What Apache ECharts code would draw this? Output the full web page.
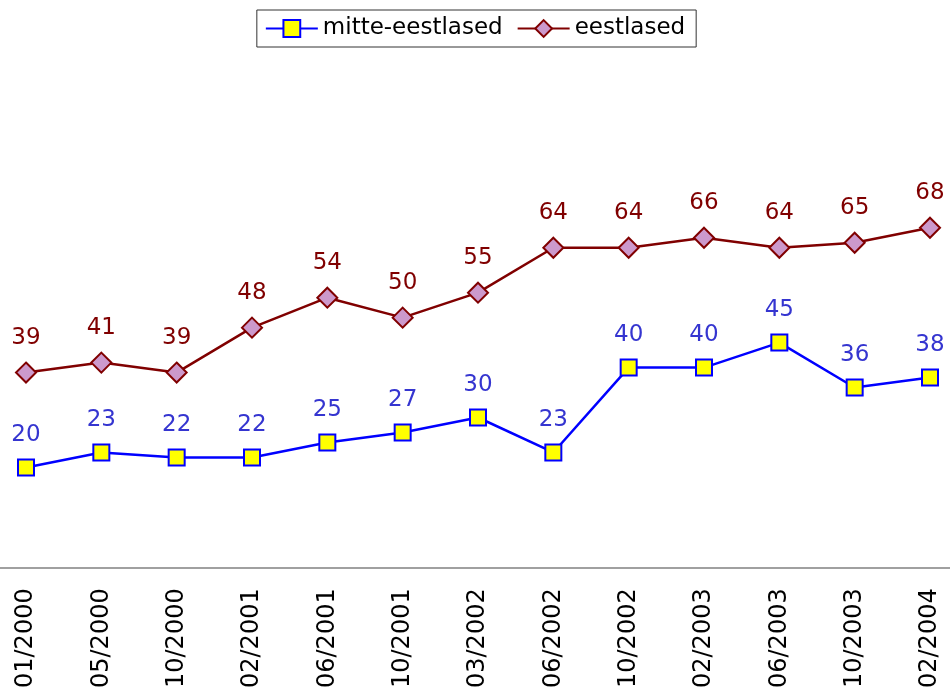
<!DOCTYPE html>
<html><head><meta charset="utf-8">
<script src="https://cdn.jsdelivr.net/npm/echarts@6/dist/echarts.min.js"></script>
<style>html,body{margin:0;padding:0;background:#fff}#c{width:950px;height:691px}</style>
</head><body><div id="c"></div>
<script>
const categories = ['01/2000','05/2000','10/2000','02/2001','06/2001','10/2001','03/2002','06/2002','10/2002','02/2003','06/2003','10/2003','02/2004'];
const mitteEestlased = [20,23,22,22,25,27,30,23,40,40,45,36,38];
const eestlased = [39,41,39,48,54,50,55,64,64,66,64,65,68];
const seriesNames = ['mitte-eestlased','eestlased'];

const FONT = 'DejaVu Sans';
const chart = echarts.init(document.getElementById('c'));
chart.setOption({
  animation: false,
  textStyle: {fontFamily: FONT},
  legend: {
    top: 10, left: 'center',
    data: seriesNames,
    itemWidth: 52, itemHeight: 21, itemGap: 14,
    padding: [7, 11, 7, 8],
    borderColor: '#333', borderWidth: 1,
    textStyle: {fontFamily: FONT, fontSize: 23, color: '#000'}
  },
  grid: [
    {left: 26, right: 20, top: 68, bottom: 123, containLabel: false},
    {left: 0, right: 0, top: 68, bottom: 123, containLabel: false}
  ],
  xAxis: [
    {type: 'category', gridIndex: 0, data: categories, boundaryGap: false,
     axisLine: {show: false}, axisTick: {show: false},
     axisLabel: {rotate: 90, margin: 21, fontFamily: FONT, fontSize: 24, color: '#000', interval: 0}},
    {type: 'category', gridIndex: 1, data: categories, boundaryGap: false,
     axisLine: {show: true, lineStyle: {color: '#808080', width: 1.5}},
     axisTick: {show: false}, axisLabel: {show: false}}
  ],
  yAxis: [
    {type: 'value', gridIndex: 0, min: 0, max: 100, show: false, splitLine: {show: false}},
    {type: 'value', gridIndex: 1, min: 0, max: 100, show: false, splitLine: {show: false}}
  ],
  series: [
    {name: seriesNames[0], type: 'line', data: mitteEestlased,
     symbol: 'rect', symbolSize: 16,
     lineStyle: {color: '#0000ff', width: 2.5},
     itemStyle: {color: '#ffff00', borderColor: '#0000ff', borderWidth: 2},
     label: {show: true, position: 'top', distance: 12, fontFamily: FONT, fontSize: 23, color: '#3535d0'}},
    {name: seriesNames[1], type: 'line', data: eestlased,
     symbol: 'diamond', symbolSize: 20,
     lineStyle: {color: '#800000', width: 2.5},
     itemStyle: {color: '#cc99cc', borderColor: '#800000', borderWidth: 2},
     label: {show: true, position: 'top', distance: 12, fontFamily: FONT, fontSize: 23, color: '#800000'}}
  ]
});
</script></body></html>
